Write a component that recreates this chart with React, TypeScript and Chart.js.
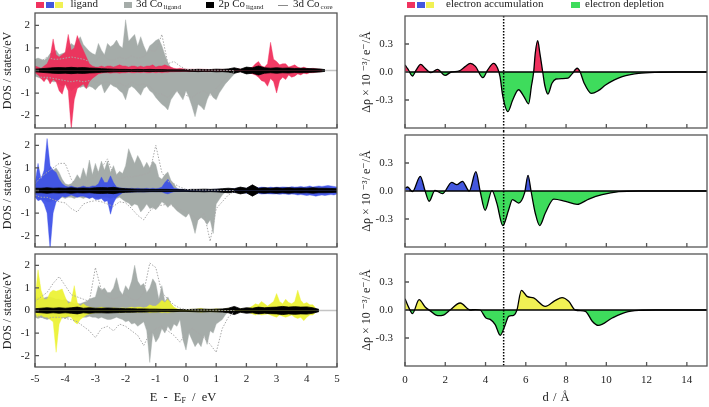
import React, { useEffect, useRef } from 'react';
import { Chart, registerables } from 'chart.js';

Chart.register(...registerables);

const FONT = '"Liberation Serif", "DejaVu Serif", serif';
const TEXT = '#222';

// ---------- axis ticks ----------
const E_TICKS = [-5, -4, -3, -2, -1, 0, 1, 2, 3, 4, 5];
const DOS_Y_TICKS = [-2, -1, 0, 1, 2];
const D_TICKS = [0, 2, 4, 6, 8, 10, 12, 14];
const RHO_Y_TICKS = [-0.3, 0, 0.3];
const CUT_D = 4.9; // dotted vertical marker in the Δρ panels

// ---------- DOS sampling ----------
const E_START = -5.0;
const FINE_STEP = 0.1;
const COARSE_STEP = 0.2;

// ---------- panel 1 (red ligand) ----------
const LIG1_UP = [
  0.2, 0.15, 0.1, 0.2, 0.3, 0.6, 1.4, 0.7, 0.6, 0.7,
  0.8, 1.6, 0.9, 1.0, 1.55, 1.2, 0.9, 0.6, 0.3, 0.2,
  0.15, 0.15, 0.2, 0.15, 0.2, 0.2, 0.15, 0.2, 0.25, 0.2,
  0.2, 0.15, 0.2, 0.2, 0.15, 0.2, 0.15, 0.2, 0.2, 0.25,
  0.15, 0.2, 0.2, 0.25, 0.2, 0.15, 0.1, 0.08, 0.1, 0.08,
  0.06, 0.05, 0.06, 0.05, 0.05, 0.06, 0.05, 0.05, 0.04, 0.05,
  0.04, 0.05, 0.05, 0.04, 0.05, 0.05, 0.06, 0.08, 0.06, 0.05,
  0.08, 0.1, 0.15, 0.3, 0.4, 0.2, 0.15, 0.3, 1.25, 0.5,
  0.4, 0.25, 0.3, 0.3, 0.15, 0.2, 0.25, 0.15, 0.1, 0.15,
  0.1, 0.08, 0.1, 0.08, 0.06, 0.05,
];
const LIG1_DN = [
  -0.1, -0.2, -0.35, -0.5, -0.3, -0.6, -0.4, -0.5, -0.9, -1.05,
  -0.6, -0.9, -2.6, -1.3, -0.8, -0.7, -0.6, -0.8, -0.5, -0.35,
  -0.25, -0.15, -0.12, -0.1, -0.1, -0.12, -0.1, -0.1, -0.12, -0.1,
  -0.1, -0.08, -0.1, -0.1, -0.08, -0.1, -0.08, -0.1, -0.1, -0.08,
  -0.1, -0.08, -0.1, -0.08, -0.08, -0.06, -0.06, -0.05, -0.05, -0.04,
  -0.04, -0.05, -0.04, -0.04, -0.05, -0.04, -0.04, -0.05, -0.04, -0.04,
  -0.04, -0.05, -0.04, -0.04, -0.05, -0.04, -0.05, -0.06, -0.05, -0.06,
  -0.08, -0.1, -0.15, -0.2, -0.3, -0.45, -0.5, -0.7, -0.35, -0.5,
  -1.0, -0.45, -0.3, -0.4, -0.2, -0.3, -0.25, -0.15, -0.2, -0.12,
  -0.15, -0.1, -0.1, -0.08, -0.06, -0.05,
];
const CO1_UP = [
  0.5, 0.55, 0.5, 0.45, 0.55, 0.75, 0.8, 0.9, 0.7, 0.75,
  0.8, 1.0, 1.2, 1.1, 1.3, 1.5, 1.15, 1.0, 0.85, 0.75,
  0.7, 1.2, 0.9, 0.7, 1.2, 1.05, 1.15, 1.35, 1.1, 1.0,
  2.25, 1.3, 1.45, 1.6, 1.07, 1.5, 1.1, 0.8, 1.1, 1.2,
  1.33, 1.4, 1.1, 0.7, 0.35, 0.12, 0.08, 0.06, 0.05, 0.05,
  0.06, 0.05, 0.05, 0.05, 0.06, 0.05, 0.05, 0.04, 0.05, 0.05,
  0.04, 0.04, 0.03, 0.03, 0.03, 0.02, 0.02, 0.01, 0.0,
];
const CO1_DN = [
  -0.25, -0.3, -0.35, -0.3, -0.4, -0.45, -0.5, -0.5, -0.6, -0.7,
  -0.6, -0.7, -0.9, -0.8, -0.7, -0.75, -0.7, -0.8, -0.7, -0.75,
  -0.86, -0.7, -0.6, -1.0, -0.8, -0.6, -0.7, -0.75, -0.9, -1.0,
  -1.3, -0.8, -0.7, -0.8, -0.95, -1.1, -0.8, -0.7, -0.9, -1.0,
  -1.2, -1.35, -1.5, -1.6, -1.75, -1.3, -1.1, -0.9, -1.1, -1.3,
  -0.9, -1.2, -1.6, -2.05, -1.5, -1.6, -1.75, -1.3, -1.0, -1.2,
  -1.3, -1.0, -0.8, -0.6, -0.45, -0.3, -0.15, -0.05, 0,
];
const CORE1_UP = [
  0.3, 0.4, 0.6, 0.5, 0.5, 0.55, 0.6, 0.55, 0.5, 0.4,
  0.35, 0.75, 0.5, 0.45, 0.6, 0.5, 0.65, 0.55, 0.6, 0.9,
  0.85, 1.6, 0.3, 0.4, 0.2, 0.05, 0.03, 0.02, 0.02, 0.02,
  0.01, 0.01, 0, 0,
];
const CORE1_DN = [
  -0.2, -0.3, -0.3, -0.35, -0.4, -0.45, -0.5, -0.45, -0.5, -0.45,
  -0.5, -0.55, -0.5, -0.6, -0.55, -0.7, -0.5, -0.65, -0.6, -0.7,
  -1.0, -1.05, -1.2, -0.9, -1.0, -1.1, -1.2, -1.0, -0.9, -1.1,
  -0.8, -0.5, -0.2, -0.05,
];
const P2CO1 = [
  0.06, 0.08, 0.1, 0.12, 0.13, 0.12, 0.14, 0.12, 0.13, 0.11,
  0.1, 0.08, 0.07, 0.06, 0.05, 0.05, 0.04, 0.05, 0.04, 0.05,
  0.04, 0.04, 0.03, 0.03, 0.03, 0.03, 0.04, 0.05, 0.04, 0.04,
  0.06, 0.05, 0.07, 0.12, 0.06, 0.15, 0.12, 0.2, 0.12, 0.1,
  0.12, 0.1, 0.11, 0.09, 0.1, 0.09, 0.08, 0.07, 0.04,
];

// ---------- panel 2 (blue ligand) ----------
const LIG2_UP = [
  0.3, 1.2, 0.5, 0.9, 2.3, 1.1, 0.9, 0.8, 0.5, 0.3,
  0.2, 0.15, 0.2, 0.15, 0.12, 0.15, 0.2, 0.15, 0.15, 0.2,
  0.2, 0.3, 0.6, 0.35, 0.35, 0.65, 0.35, 0.15, 0.12, 0.1,
  0.1, 0.08, 0.1, 0.08, 0.1, 0.08, 0.08, 0.1, 0.08, 0.1,
  0.08, 0.1, 0.15, 0.35, 0.5, 0.3, 0.1, 0.08, 0.06, 0.05,
  0.05, 0.04, 0.05, 0.04, 0.05, 0.04, 0.04, 0.05, 0.04, 0.05,
  0.05, 0.06, 0.05, 0.06, 0.06, 0.07, 0.08, 0.1, 0.08, 0.1,
  0.1, 0.12, 0.12, 0.15, 0.12, 0.15, 0.14, 0.12, 0.15, 0.13,
  0.15, 0.14, 0.16, 0.15, 0.14, 0.17, 0.15, 0.16, 0.18, 0.15,
  0.17, 0.2, 0.16, 0.18, 0.2, 0.18, 0.2, 0.22, 0.2, 0.18,
  0.15,
];
const LIG2_DN = [
  -0.3, -0.45, -0.4, -0.6, -1.0, -2.6, -1.0, -0.5, -0.4, -0.25,
  -0.3, -0.25, -0.2, -0.25, -0.3, -0.25, -0.25, -0.3, -0.35, -0.3,
  -0.4, -0.4, -0.35, -0.5, -0.45, -1.05, -0.55, -0.3, -0.2, -0.1,
  -0.08, -0.07, -0.08, -0.06, -0.07, -0.06, -0.07, -0.06, -0.06, -0.05,
  -0.06, -0.05, -0.06, -0.12, -0.15, -0.1, -0.06, -0.05, -0.05, -0.04,
  -0.04, -0.05, -0.04, -0.05, -0.04, -0.04, -0.05, -0.04, -0.05, -0.04,
  -0.05, -0.05, -0.06, -0.05, -0.06, -0.07, -0.08, -0.08, -0.1, -0.1,
  -0.12, -0.12, -0.14, -0.15, -0.12, -0.16, -0.15, -0.14, -0.15, -0.16,
  -0.15, -0.17, -0.15, -0.16, -0.18, -0.16, -0.17, -0.2, -0.18, -0.2,
  -0.22, -0.2, -0.22, -0.25, -0.22, -0.2, -0.22, -0.2, -0.18, -0.2,
  -0.15,
];
const CO2_UP = [
  0.3, 0.6, 0.5, 0.7, 0.8, 1.0, 0.9, 1.0, 0.8, 0.5,
  0.3, 0.25, 0.3, 0.45, 0.7, 0.5, 1.0, 0.6, 1.35, 0.7,
  1.2, 0.8, 1.3, 0.9, 1.3, 0.8, 1.1, 0.7, 0.85, 0.75,
  1.1, 1.85, 1.5, 1.2, 1.55, 1.3, 1.0, 1.25, 1.0, 1.3,
  1.15, 0.6, 0.5, 0.7, 0.82, 0.45, 0.3, 0.1, 0.06, 0.05,
  0.04,
];
const CO2_DN = [
  -0.3, -0.35, -0.4, -0.4, -0.5, -0.5, -0.45, -0.4, -0.35, -0.3,
  -0.35, -0.3, -0.3, -0.35, -0.3, -0.3, -0.35, -0.3, -0.35, -0.3,
  -0.3, -0.35, -0.3, -0.3, -0.3, -0.35, -0.3, -0.35, -0.3, -0.4,
  -0.5, -0.55, -0.7, -0.6, -0.65, -0.95, -0.8, -0.6, -0.8, -0.75,
  -0.85, -0.7, -0.5, -0.6, -0.75, -0.6, -0.75, -0.9, -1.0, -1.1,
  -1.18, -1.0, -1.4, -1.9, -1.3, -1.2, -1.3, -1.5, -1.3, -1.9,
  -0.6, -0.4, -0.2, -0.08, 0,
];
const CORE2_UP = [
  0.3, 0.6, 0.8, 1.0, 1.2, 1.2, 0.5, 0.2, 0.3, 0.5,
  0.6, 1.0, 1.4, 0.7, 0.5, 0.6, 0.6, 0.65, 0.7, 0.8,
  2.0, 0.8, 0.4, 0.3, 0.15, 0.05, 0.03, 0.02, 0.02, 0.01,
  0.01, 0, 0, 0,
];
const CORE2_DN = [
  -0.2, -0.3, -0.3, -0.4, -0.5, -0.55, -0.8, -0.95, -0.6, -0.5,
  -0.45, -0.5, -0.6, -0.7, -0.5, -0.55, -0.8, -1.1, -1.3, -0.9,
  -0.7, -0.65, -0.6, -0.7, -0.85, -0.95, -1.1, -1.3, -1.0, -2.25,
  -0.8, -0.5, -0.2, -0.05,
];
const P2CO2 = [
  0.1, 0.1, 0.12, 0.1, 0.11, 0.1, 0.12, 0.1, 0.11, 0.1,
  0.12, 0.13, 0.12, 0.14, 0.1, 0.08, 0.07, 0.06, 0.06, 0.05,
  0.05, 0.05, 0.05, 0.04, 0.04, 0.04, 0.05, 0.05, 0.06, 0.05,
  0.06, 0.08, 0.1, 0.08, 0.15, 0.1, 0.25, 0.1, 0.12, 0.1,
  0.12, 0.1, 0.12, 0.1, 0.11, 0.1, 0.12, 0.1, 0.1, 0.09,
  0.08,
];

// ---------- panel 3 (yellow ligand) ----------
const LIG3_UP = [
  0.5, 1.8, 0.9, 0.5, 0.5, 0.8, 0.9, 0.85, 0.9, 0.95,
  0.6, 0.3, 0.4, 1.1, 0.35, 0.2, 0.3, 0.2, 0.15, 0.12,
  0.1, 0.12, 0.15, 0.12, 0.1, 0.1, 0.12, 0.1, 0.1, 0.12,
  0.1, 0.12, 0.15, 0.12, 0.15, 0.15, 0.12, 0.15, 0.25, 0.2,
  0.2, 0.3, 0.45, 0.35, 0.5, 0.3, 0.15, 0.08, 0.05, 0.04,
  0.04, 0.05, 0.06, 0.05, 0.08, 0.1, 0.06, 0.05, 0.06, 0.05,
  0.08, 0.06, 0.05, 0.06, 0.1, 0.08, 0.1, 0.06, 0.08, 0.06,
  0.1, 0.12, 0.2, 0.3, 0.25, 0.4, 0.3, 0.2, 0.3, 0.4,
  0.75, 0.4, 0.3, 0.5, 0.35, 0.3, 0.4, 0.9, 0.45, 0.3,
  0.35, 0.25, 0.25, 0.1,
];
const LIG3_DN = [
  -0.2, -0.3, -0.2, -0.3, -0.3, -0.4, -0.5, -1.85, -0.6, -0.3,
  -0.3, -0.25, -0.3, -0.5, -0.6, -0.4, -0.3, -0.2, -0.15, -0.12,
  -0.1, -0.1, -0.08, -0.1, -0.08, -0.1, -0.08, -0.08, -0.1, -0.08,
  -0.08, -0.07, -0.08, -0.07, -0.08, -0.07, -0.08, -0.07, -0.1, -0.08,
  -0.08, -0.07, -0.1, -0.08, -0.1, -0.07, -0.06, -0.05, -0.04, -0.04,
  -0.04, -0.05, -0.06, -0.05, -0.06, -0.08, -0.06, -0.05, -0.06, -0.05,
  -0.06, -0.05, -0.05, -0.06, -0.08, -0.07, -0.08, -0.06, -0.07, -0.06,
  -0.08, -0.1, -0.15, -0.2, -0.15, -0.2, -0.18, -0.15, -0.2, -0.25,
  -0.3, -0.2, -0.25, -0.3, -0.25, -0.2, -0.3, -0.35, -0.3, -0.45,
  -0.3, -0.2, -0.2, -0.08,
];
const CO3_UP = [
  0.5, 0.6, 0.5, 0.55, 0.6, 0.6, 0.55, 0.5, 0.5, 0.45,
  0.5, 0.4, 0.35, 0.3, 0.3, 0.3, 0.35, 0.4, 0.5, 0.55,
  0.6, 1.1, 0.9, 1.0, 0.8, 0.8, 1.0, 1.45, 0.9, 0.7,
  1.1, 0.9, 1.3, 2.0, 1.3, 1.1, 1.2, 0.8, 1.0, 1.4,
  1.2, 0.5, 1.1, 0.4, 0.6, 0.3, 0.1, 0.05, 0,
];
const CO3_DN = [
  -0.3, -0.35, -0.3, -0.35, -0.4, -0.35, -0.3, -0.35, -0.3, -0.3,
  -0.35, -0.3, -0.25, -0.3, -0.3, -0.25, -0.3, -0.3, -0.25, -0.3,
  -0.3, -0.35, -0.3, -0.35, -0.4, -0.4, -0.35, -0.3, -0.35, -0.4,
  -0.5, -0.45, -0.6, -0.55, -0.7, -0.6, -0.5, -0.9, -2.3, -1.0,
  -1.4, -1.2, -0.8, -1.0, -0.7, -0.9, -0.6, -0.7, -0.4, -1.3,
  -1.75, -1.0, -1.3, -1.6, -1.4, -1.6, -1.1, -1.5, -0.9, -1.0,
  -0.6, -0.5, -0.4, -0.2, -0.05,
];
const CORE3_UP = [
  0.4, 0.6, 0.8, 1.2, 1.5, 1.1, 0.7, 0.6, 0.5, 0.4,
  1.9, 0.9, 0.6, 0.5, 0.6, 0.7, 0.5, 0.45, 0.8, 2.1,
  1.9, 0.8, 0.5, 0.25, 0.1, 0.05, 0.03, 0.02, 0.02, 0.01,
  0.01, 0, 0, 0,
];
const CORE3_DN = [
  -0.2, -0.3, -0.35, -0.3, -0.3, -0.35, -0.4, -0.5, -0.7, -0.9,
  -1.2, -0.8, -0.7, -0.9, -0.6, -0.7, -0.9, -1.1, -1.55, -1.0,
  -0.8, -0.7, -0.9, -1.1, -1.4, -1.0, -0.8, -1.0, -1.2, -1.5,
  -1.85, -0.8, -0.3, -0.05,
];
const P2CO3 = [
  0.08, 0.1, 0.12, 0.1, 0.12, 0.1, 0.12, 0.15, 0.1, 0.12,
  0.1, 0.1, 0.11, 0.1, 0.09, 0.08, 0.08, 0.07, 0.07, 0.06,
  0.06, 0.05, 0.05, 0.05, 0.04, 0.04, 0.05, 0.06, 0.06, 0.05,
  0.06, 0.07, 0.1, 0.18, 0.08, 0.12, 0.1, 0.15, 0.12, 0.14,
  0.15, 0.18, 0.15, 0.17, 0.15, 0.16, 0.12, 0.05,
];

// ---------- charge-density difference panels ----------
const R1_D = [0, 0.15, 0.37, 0.55, 0.78, 1.0, 1.29, 1.61, 1.99, 2.3, 2.7, 3.0, 3.24, 3.5, 3.87, 4.1, 4.4, 4.6, 4.72, 4.85, 5.11, 5.35, 5.64, 5.9, 6.14, 6.28, 6.39, 6.47, 6.59, 6.7, 6.84, 6.95, 7.1, 7.3, 7.5, 7.8, 8.1, 8.3, 8.55, 8.7, 8.9, 9.26, 9.6, 9.96, 10.4, 10.79, 11.2, 11.6, 12.45, 13.5, 15];
const R1_V = [0.075, 0.03, -0.043, 0.02, 0.082, 0.04, -0.007, 0.029, -0.036, 0.0, 0.012, 0.06, 0.093, 0.06, -0.061, 0.02, 0.093, 0.04, -0.05, -0.25, -0.425, -0.3, -0.19, -0.26, -0.34, -0.15, 0.0, 0.2, 0.335, 0.2, 0.0, -0.15, -0.236, -0.12, -0.075, -0.07, -0.065, -0.02, 0.04, 0.0, -0.12, -0.23, -0.2, -0.14, -0.085, -0.05, -0.028, -0.014, -0.003, 0, 0];
const R2_D = [0, 0.13, 0.37, 0.76, 1.0, 1.2, 1.49, 1.86, 2.32, 2.57, 2.85, 3.19, 3.52, 3.73, 3.98, 4.32, 4.56, 4.86, 5.15, 5.34, 5.64, 5.94, 6.11, 6.26, 6.47, 6.69, 6.97, 7.39, 7.97, 8.55, 9.13, 9.79, 10.62, 11.62, 15];
const R2_V = [0.03, 0.043, -0.007, 0.157, 0, -0.11, 0.007, -0.029, 0.093, 0.068, 0.104, 0.0, 0.207, 0, -0.207, 0.005, -0.13, -0.371, -0.2, -0.093, -0.129, -0.02, 0.168, 0, -0.236, -0.37, -0.236, -0.086, -0.11, -0.143, -0.086, -0.039, -0.007, 0, 0];
const R3_D = [0, 0.2, 0.37, 0.7, 1.0, 1.24, 1.63, 1.91, 2.24, 2.74, 3.24, 3.49, 3.73, 4.02, 4.23, 4.48, 4.73, 4.95, 5.15, 5.39, 5.56, 5.78, 6.06, 6.39, 6.97, 7.47, 7.8, 8.13, 8.46, 8.96, 9.3, 9.6, 10.29, 10.95, 11.62, 12.45, 15];
const R3_V = [0.121, 0.02, -0.039, 0.111, 0.032, -0.007, -0.061, -0.054, 0, 0.075, 0, 0.005, 0, -0.086, -0.1, -0.157, -0.271, -0.175, -0.068, -0.057, 0, 0.211, 0.146, 0.129, 0.039, 0.104, 0.132, 0.093, 0, -0.014, -0.12, -0.165, -0.086, -0.025, -0.004, 0, 0];

// ---------- colours ----------
const RED = 'rgba(240, 42, 88, 0.92)';
const BLUE = 'rgba(58, 78, 232, 0.92)';
const YELLOW = 'rgba(236, 242, 48, 0.92)';
const GRAY_FILL = '#a5aca9';
const CORE_LINE = '#a8a8a8';
const ACC_RED = '#f0325f';
const ACC_BLUE = '#4357de';
const ACC_YELLOW = '#f1f154';
const DEP_GREEN = '#3edc5c';

const series = (vals: number[], step: number, sign = 1) =>
  vals.map((v, i) => ({ x: +(E_START + i * step).toFixed(2), y: sign * v }));
const pairs = (xs: number[], ys: number[]) => xs.map((x, i) => ({ x, y: ys[i] }));

function makeFrame(cfg: any) {
  const drawZero = (chart: any) => {
    const { ctx, chartArea: a, scales } = chart;
    const y = scales.y.getPixelForValue(0);
    ctx.save();
    ctx.strokeStyle = cfg.zeroColor;
    ctx.lineWidth = cfg.zeroWidth;
    ctx.beginPath();
    ctx.moveTo(a.left, y);
    ctx.lineTo(a.right, y);
    ctx.stroke();
    ctx.restore();
  };
  return {
    id: 'frame',
    beforeDatasetsDraw(chart: any) {
      if (cfg.zeroBelow) drawZero(chart);
    },
    afterDatasetsDraw(chart: any) {
      const { ctx, chartArea: a, scales } = chart;
      if (!cfg.zeroBelow) drawZero(chart);
      if (cfg.vline !== undefined) {
        const x = scales.x.getPixelForValue(cfg.vline);
        ctx.save();
        ctx.strokeStyle = '#000';
        ctx.lineWidth = 1.5;
        ctx.setLineDash([1.5, 1.5]);
        ctx.beginPath();
        ctx.moveTo(x, cfg.vFromCanvas ? 0 : a.top);
        ctx.lineTo(x, cfg.vToCanvas ? chart.height : a.bottom);
        ctx.stroke();
        ctx.restore();
      }
      ctx.save();
      ctx.strokeStyle = '#555';
      ctx.lineWidth = 1.3;
      ctx.beginPath();
      for (const v of cfg.xTicks) {
        const x = scales.x.getPixelForValue(v);
        ctx.moveTo(x, a.bottom);
        ctx.lineTo(x, a.bottom - 4);
      }
      for (const v of cfg.yTicks) {
        const y = scales.y.getPixelForValue(v);
        ctx.moveTo(a.left, y);
        ctx.lineTo(a.left + 4, y);
      }
      ctx.stroke();
      ctx.strokeRect(a.left, a.top, a.right - a.left, a.bottom - a.top);
      ctx.restore();
    },
  };
}

function baseScales(o: any) {
  return {
    x: {
      type: 'linear',
      min: o.xMin,
      max: o.xMax,
      display: o.showX,
      afterBuildTicks: (s: any) => { s.ticks = o.xTicks.map((v: number) => ({ value: v })); },
      afterFit: (s: any) => {
        s.height = o.showX ? o.xHeight : 0;
        s.paddingLeft = 0; s.paddingRight = 0; s.paddingTop = 0; s.paddingBottom = 0;
      },
      grid: { display: false, drawTicks: false },
      border: { display: false },
      ticks: { font: { family: FONT, size: 11 }, color: TEXT, padding: o.xPad, maxRotation: 0, autoSkip: false, callback: (v: any) => String(v) },
    },
    y: {
      type: 'linear',
      min: -o.yMax,
      max: o.yMax,
      afterBuildTicks: (s: any) => { s.ticks = o.yTicks.map((v: number) => ({ value: v })); },
      afterFit: (s: any) => {
        s.width = o.yWidth;
        s.paddingLeft = 0; s.paddingRight = 0; s.paddingTop = 0; s.paddingBottom = 0;
      },
      grid: { display: false, drawTicks: false },
      border: { display: false },
      ticks: { font: { family: FONT, size: 11 }, color: TEXT, padding: o.yPad, callback: o.yFmt },
      title: { display: true, text: o.yTitle, font: { family: FONT, size: 12 }, color: TEXT, padding: { top: o.titlePad, bottom: 0 } },
    },
  };
}

function dosConfig(p: any, lay: any) {
  const filled = (data: any[], color: string, order: number) => ({
    data, backgroundColor: color, borderColor: color, borderWidth: 0.4, fill: 'origin', pointRadius: 0, tension: 0, order,
  });
  const core = (data: any[]) => ({
    data, borderColor: CORE_LINE, borderWidth: 1, borderDash: [1.5, 1.5], fill: false, pointRadius: 0, tension: 0, order: 1,
  });
  return {
    type: 'line',
    data: {
      datasets: [
        core(series(p.coreUp, COARSE_STEP)),
        core(series(p.coreDn, COARSE_STEP)),
        { ...filled(series(p.p2, COARSE_STEP), '#000', 2), borderWidth: 0.8 },
        { ...filled(series(p.p2, COARSE_STEP, -1), '#000', 2), borderWidth: 0.8 },
        filled(series(p.ligUp, FINE_STEP), p.color, 3),
        filled(series(p.ligDn, FINE_STEP), p.color, 3),
        filled(series(p.coUp, FINE_STEP), GRAY_FILL, 4),
        filled(series(p.coDn, FINE_STEP), GRAY_FILL, 4),
      ],
    },
    options: {
      animation: false,
      responsive: false,
      devicePixelRatio: 1,
      layout: { padding: { top: lay.padTop, bottom: lay.padBottom, left: 0, right: 3 } },
      plugins: { legend: { display: false }, tooltip: { enabled: false } },
      scales: baseScales({
        xMin: -5, xMax: 5, showX: lay.showX, xTicks: E_TICKS, xHeight: 40, xPad: 6,
        yMax: p.yMax, yTicks: DOS_Y_TICKS, yWidth: 35, yPad: 5, yFmt: (v: any) => String(v),
        yTitle: 'DOS / states/eV', titlePad: 1,
      }),
    },
    plugins: [makeFrame({ xTicks: E_TICKS, yTicks: DOS_Y_TICKS, zeroBelow: true, zeroColor: '#c4c4c4', zeroWidth: 1.5 })],
  };
}

function rhoConfig(d: number[], v: number[], acc: string, lay: any) {
  return {
    type: 'line',
    data: {
      datasets: [{
        data: pairs(d, v),
        borderColor: '#000',
        borderWidth: 1.3,
        fill: { target: 'origin', above: acc, below: DEP_GREEN },
        cubicInterpolationMode: 'monotone',
        pointRadius: 0,
      }],
    },
    options: {
      animation: false,
      responsive: false,
      devicePixelRatio: 1,
      layout: { padding: { top: lay.padTop, bottom: lay.padBottom, left: 0, right: 2 } },
      plugins: { legend: { display: false }, tooltip: { enabled: false } },
      scales: baseScales({
        xMin: 0, xMax: 15, showX: lay.showX, xTicks: D_TICKS, xHeight: 41, xPad: 8,
        yMax: 0.6, yTicks: RHO_Y_TICKS, yWidth: 50, yPad: 12, yFmt: (val: any) => Number(val).toFixed(1),
        yTitle: 'Δρ × 10 ⁻³/ e⁻/Å', titlePad: 5,
      }),
    },
    plugins: [makeFrame({ xTicks: D_TICKS, yTicks: RHO_Y_TICKS, zeroBelow: false, zeroColor: '#000', zeroWidth: 1.3, vline: CUT_D, vFromCanvas: lay.vFromCanvas, vToCanvas: lay.vToCanvas })],
  };
}

const DOS_PANELS = [
  { ligUp: LIG1_UP, ligDn: LIG1_DN, coUp: CO1_UP, coDn: CO1_DN, coreUp: CORE1_UP, coreDn: CORE1_DN, p2: P2CO1, color: RED, yMax: 2.55 },
  { ligUp: LIG2_UP, ligDn: LIG2_DN, coUp: CO2_UP, coDn: CO2_DN, coreUp: CORE2_UP, coreDn: CORE2_DN, p2: P2CO2, color: BLUE, yMax: 2.5 },
  { ligUp: LIG3_UP, ligDn: LIG3_DN, coUp: CO3_UP, coDn: CO3_DN, coreUp: CORE3_UP, coreDn: CORE3_DN, p2: P2CO3, color: YELLOW, yMax: 2.5 },
];

const SPECS = [
  { key: 'l1', left: 0, top: 10, w: 340, h: 121, make: () => dosConfig(DOS_PANELS[0], { padTop: 3, padBottom: 3, showX: false }) },
  { key: 'l2', left: 0, top: 131, w: 340, h: 119, make: () => dosConfig(DOS_PANELS[1], { padTop: 3, padBottom: 3, showX: false }) },
  { key: 'l3', left: 0, top: 251, w: 340, h: 156, make: () => dosConfig(DOS_PANELS[2], { padTop: 3, padBottom: 0, showX: true }) },
  { key: 'r1', left: 355, top: 12, w: 354, h: 119, make: () => rhoConfig(R1_D, R1_V, ACC_RED, { padTop: 4, padBottom: 3, showX: false, vFromCanvas: false, vToCanvas: true }) },
  { key: 'r2', left: 355, top: 131, w: 354, h: 119, make: () => rhoConfig(R2_D, R2_V, ACC_BLUE, { padTop: 4, padBottom: 3, showX: false, vFromCanvas: true, vToCanvas: true }) },
  { key: 'r3', left: 355, top: 250, w: 354, h: 157, make: () => rhoConfig(R3_D, R3_V, ACC_YELLOW, { padTop: 4, padBottom: 0, showX: true, vFromCanvas: true, vToCanvas: false }) },
];

function ChartBox({ spec }: { spec: any }) {
  const ref = useRef<HTMLCanvasElement | null>(null);
  useEffect(() => {
    const chart = new Chart(ref.current as HTMLCanvasElement, spec.make() as any);
    return () => chart.destroy();
  }, [spec]);
  return (
    <canvas
      ref={ref}
      width={spec.w}
      height={spec.h}
      style={{ position: 'absolute', left: spec.left, top: spec.top, width: spec.w, height: spec.h }}
    />
  );
}

const Swatch = ({ left, color, w = 8 }: { left: number; color: string; w?: number }) => (
  <div style={{ position: 'absolute', left, top: 2, width: w, height: 6, background: color }} />
);

const Label = ({ left, children }: { left: number; children: any }) => (
  <div style={{ position: 'absolute', left, top: -2, fontSize: 11, lineHeight: '11px', whiteSpace: 'nowrap' }}>{children}</div>
);

const Sub = ({ children }: { children: any }) => (
  <span style={{ fontSize: 7, position: 'relative', top: 2, marginLeft: 1 }}>{children}</span>
);

export default function App() {
  return (
    <div style={{ position: 'fixed', left: 0, top: 0, width: 709, height: 407, background: '#fff', fontFamily: FONT, color: TEXT, overflow: 'hidden' }}>
      {SPECS.map((s) => <ChartBox key={s.key} spec={s} />)}

      {/* left legend */}
      <Swatch left={36} color={ACC_RED} />
      <Swatch left={45.5} color={ACC_BLUE} />
      <Swatch left={55} color={ACC_YELLOW} />
      <Label left={70.5}>ligand</Label>
      <Swatch left={123.5} color={GRAY_FILL} />
      <Label left={136}>3d Co<Sub>ligand</Sub></Label>
      <Swatch left={206} color="#000" />
      <Label left={218.5}>2p Co<Sub>ligand</Sub></Label>
      <div style={{ position: 'absolute', left: 278, top: 5, width: 10, height: 1, background: '#8a8a8a' }} />
      <Label left={293}>3d Co<Sub>core</Sub></Label>

      {/* right legend */}
      <Swatch left={407} color={ACC_RED} />
      <Swatch left={416.5} color={ACC_BLUE} />
      <Swatch left={426} color={ACC_YELLOW} />
      <Label left={446}>electron accumulation</Label>
      <Swatch left={571} color={DEP_GREEN} w={9} />
      <Label left={585}>electron depletion</Label>

      {/* x-axis titles */}
      <div style={{ position: 'absolute', left: 183, top: 390, transform: 'translateX(-50%)', fontSize: 12.5, lineHeight: '14px', wordSpacing: 3, whiteSpace: 'nowrap' }}>
        E - E<span style={{ fontSize: 8, position: 'relative', top: 2 }}>F</span> / eV
      </div>
      <div style={{ position: 'absolute', left: 556, top: 390, transform: 'translateX(-50%)', fontSize: 12.5, lineHeight: '14px', wordSpacing: 1, whiteSpace: 'nowrap' }}>
        d / Å
      </div>
    </div>
  );
}
